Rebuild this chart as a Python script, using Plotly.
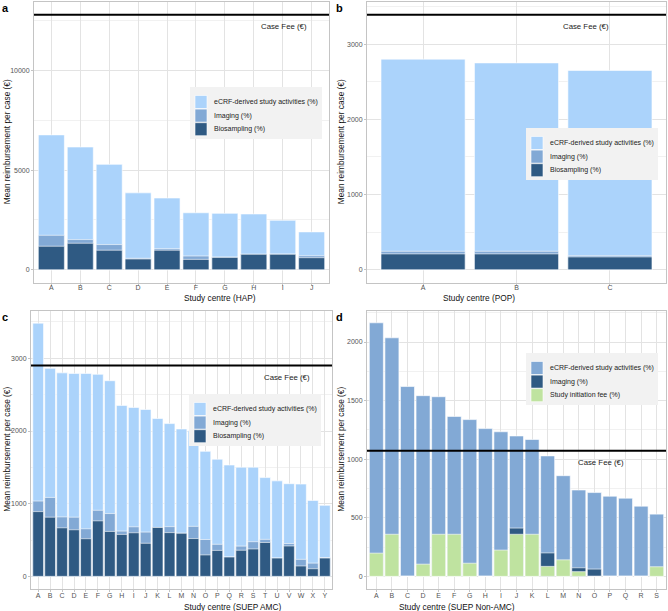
import plotly.graph_objects as go

# ---- data ----
hap_centres = list("ABCDEFGHIJ")
hap_ecrf = [6770, 6160, 5290, 3860, 3600, 2860, 2830, 2800, 2480, 1900]
hap_imaging = [1730, 1515, 1265, 575, 1060, 690, 640, 780, 790, 705]
hap_bio = [1180, 1330, 980, 540, 980, 520, 620, 775, 775, 605]
hap_fee = 12800

pop_centres = list("ABC")
pop_ecrf = [2800, 2750, 2650]
pop_imaging = [245, 245, 188]
pop_bio = [210, 210, 170]
pop_fee = 3390

amc_centres = list("ABCDEFGHIJKLMNOPQRSTUVWXY")
amc_ecrf = [3484, 2862, 2800, 2792, 2792, 2780, 2692, 2352, 2324, 2296, 2172, 2102, 2028, 2005, 1720,
            1612, 1532, 1502, 1502, 1359, 1314, 1275, 1270, 1045, 977]
amc_imaging = [1036, 1086, 818, 814, 655, 909, 864, 623, 682, 609, 673, 684, 593, 688, 507,
               441, 266, 416, 477, 509, 252, 452, 234, 182, 259]
amc_bio = [891, 814, 668, 641, 518, 764, 618, 577, 600, 455, 673, 602, 593, 520, 295,
           357, 266, 359, 377, 466, 252, 418, 143, 105, 252]
amc_fee = 2900

nonamc_centres = list("ABCDEFGHIJKLMNOPQRS")
nonamc_ecrf = [2164, 2036, 1620, 1542, 1533, 1365, 1338, 1261, 1234, 1198, 1168, 1028, 859, 737, 715,
               684, 667, 599, 531]
nonamc_imaging = [0, 0, 0, 0, 0, 0, 0, 0, 0, 412, 0, 200, 0, 73, 62, 0, 0, 0, 0]
nonamc_init = [198, 359, 0, 104, 359, 359, 112, 0, 224, 359, 359, 85, 141, 40, 0, 0, 0, 0, 82]
nonamc_fee = 1071

LIGHT = "#abd3fb"
MID = "#82a9d5"
DARK = "#2f5a83"
GREEN = "#bfe3a0"
FONT = "Liberation Sans"
W, H = 668, 611

def px(x):
    return x / W

def py(y):
    return 1 - y / H

fig = go.Figure()

panels = [
    # (axis suffix, centres, series, fee, x domain px, y domain px, y range, dtick, x title)
    ("", hap_centres,
     [("eCRF-derived study activities (%)", hap_ecrf, LIGHT),
      ("Imaging (%)", hap_imaging, MID),
      ("Biosampling (%)", hap_bio, DARK)],
     hap_fee, (34, 329), (2, 282.5), [-640, 13440], 5000, "Study centre (HAP)"),
    ("2", pop_centres,
     [("eCRF-derived study activities (%)", pop_ecrf, LIGHT),
      ("Imaging (%)", pop_imaging, MID),
      ("Biosampling (%)", pop_bio, DARK)],
     pop_fee, (367, 666), (2, 282.5), [-170, 3560], 1000, "Study centre (POP)"),
    ("3", amc_centres,
     [("eCRF-derived study activities (%)", amc_ecrf, LIGHT),
      ("Imaging (%)", amc_imaging, MID),
      ("Biosampling (%)", amc_bio, DARK)],
     amc_fee, (31, 332), (310.5, 589), [-174, 3658], 1000, "Study centre (SUEP AMC)"),
    ("4", nonamc_centres,
     [("eCRF-derived study activities (%)", nonamc_ecrf, MID),
      ("Imaging (%)", nonamc_imaging, DARK),
      ("Study initiation fee (%)", nonamc_init, GREEN)],
     nonamc_fee, (367, 666), (310.5, 589), [-108, 2269], 500, "Study centre (SUEP Non-AMC)"),
]

# legend box top-left corner (pixels)
legend_pos = [(190, 87), (526, 128), (189, 394), (526, 353)]
# case fee label centre x (pixels)
fee_label_x = [284, 611, 287, 626]
# x title centre y (pixels)
xtitle_y = [298, 298, 607, 607]
ytitle_x = [7, 341, 7, 341]
xtick_standoff = [-4, -4, -2, -2]
panel_letters = ["a", "b", "c", "d"]

layout = {}
annotations = []
shapes = []

for i, (sfx, cats, series, fee, xd, yd, yr, dt, xtitle) in enumerate(panels):
    for name, vals, col in series:
        fig.add_trace(go.Bar(
            x=cats, y=vals, name=name, width=0.9, showlegend=False,
            marker=dict(color=col, line=dict(color="white", width=0.6)),
            xaxis="x" + sfx, yaxis="y" + sfx, hoverinfo="skip"
        ))
    n = len(cats)
    layout["xaxis" + sfx] = dict(
        domain=[px(xd[0]), px(xd[1])], anchor="y" + sfx, type="category", range=[-0.6, n - 0.4],
        showgrid=True, gridcolor="#e3e3e3", gridwidth=0.7,
        showline=True, mirror=True, linecolor="#c4c4c4", linewidth=1,
        ticks="outside", ticklen=2, tickcolor="#c4c4c4", ticklabelstandoff=xtick_standoff[i],
        tickfont=dict(size=7, color="#555555", family=FONT), zeroline=False,
    )
    layout["yaxis" + sfx] = dict(
        domain=[py(yd[1]), py(yd[0])], anchor="x" + sfx, range=yr, dtick=dt, tick0=0,
        tickformat="d",
        showgrid=True, gridcolor="#e3e3e3", gridwidth=0.7,
        minor=dict(showgrid=True, gridcolor="#f1f1f1", gridwidth=0.5, dtick=dt / 2, tick0=0),
        showline=True, mirror=True, linecolor="#c4c4c4", linewidth=1,
        ticks="outside", ticklen=2, tickcolor="#c4c4c4",
        tickfont=dict(size=7, color="#555555", family=FONT), zeroline=False,
    )

    # legend box drawn like the ggplot one
    lx, ly = legend_pos[i]
    shapes.append(dict(type="rect", xref="paper", yref="paper", layer="above",
                       x0=px(lx), x1=px(lx + 132), y0=py(ly + 52), y1=py(ly),
                       fillcolor="#f2f2f2", line=dict(width=0)))
    for k, (name, vals, col) in enumerate(series):
        cy = ly + 15 + k * 13.6
        shapes.append(dict(type="rect", xref="paper", yref="paper", layer="above",
                           x0=px(lx + 5), x1=px(lx + 17), y0=py(cy + 6.5), y1=py(cy - 6.5),
                           fillcolor=col, line=dict(color="white", width=0.6)))
        annotations.append(dict(text=name, xref="paper", yref="paper", x=px(lx + 22), y=py(cy),
                                xanchor="left", yanchor="middle", showarrow=False,
                                font=dict(size=7, color="#222222", family=FONT)))

    # case fee line
    shapes.append(dict(type="line", xref="x%s domain" % sfx, yref="y" + sfx,
                       x0=0, x1=1, y0=fee, y1=fee, line=dict(color="black", width=2)))
    annotations.append(dict(text="Case Fee (€)", xref="paper", yref="y" + sfx,
                            x=px(fee_label_x[i]), y=fee, yshift=-12, showarrow=False,
                            font=dict(size=7.8, color="#222222", family=FONT)))
    # axis titles
    annotations.append(dict(text=xtitle, xref="paper", yref="paper",
                            x=px((xd[0] + xd[1]) / 2), y=py(xtitle_y[i]), yanchor="middle",
                            showarrow=False, font=dict(size=8.3, color="#111111", family=FONT)))
    annotations.append(dict(text="Mean reimbursement per case (€)", xref="paper", yref="paper",
                            x=px(ytitle_x[i]), y=py((yd[0] + yd[1]) / 2), textangle=-90,
                            xanchor="center", yanchor="middle",
                            showarrow=False, font=dict(size=8.3, color="#111111", family=FONT)))
    # panel letter
    annotations.append(dict(text="<b>%s</b>" % panel_letters[i], xref="paper", yref="paper",
                            x=px(0 if xd[0] < 300 else 334), y=py(yd[0] - 2), xanchor="left",
                            yanchor="top", showarrow=False,
                            font=dict(size=11, color="black", family=FONT)))

fig.update_layout(
    **layout,
    barmode="overlay",
    width=W, height=H,
    margin=dict(l=0, r=0, t=0, b=0, autoexpand=False),
    paper_bgcolor="white", plot_bgcolor="white",
    font=dict(family=FONT),
    showlegend=False,
    shapes=shapes, annotations=annotations,
)

# drop the browser's default 8px body margin so the figure sits at the window origin
fig.write_html("out.html", config={"displayModeBar": False},
               post_script="document.body.style.margin='0';")
